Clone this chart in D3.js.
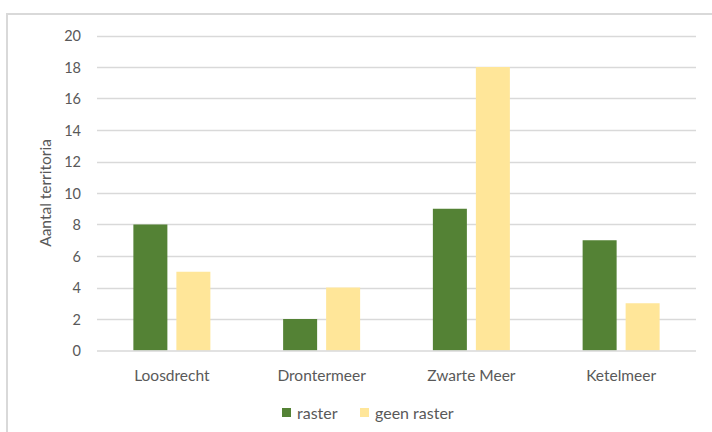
<!DOCTYPE html>
<html>
<head>
<meta charset="utf-8">
<script src="https://cdn.jsdelivr.net/npm/d3@7"></script>
<style>
  body { margin: 0; background: #fff; }
  svg text { font-family: Lato, "Open Sans", sans-serif; fill: #595959; }
</style>
</head>
<body>
<div id="chart"></div>
<script>
const categories = ["Loosdrecht", "Drontermeer", "Zwarte Meer", "Ketelmeer"];
const seriesNames = ["raster", "geen raster"];
const raster = [8, 2, 9, 7];
const geenRaster = [5, 4, 18, 3];
const yTicks = [0, 2, 4, 6, 8, 10, 12, 14, 16, 18, 20];
const colors = { "raster": "#548235", "geen raster": "#FFE699" };

const W = 712, H = 432;
const margin = { top: 35.5, right: 16, bottom: 81.5, left: 97 };

const svg = d3.select("#chart").append("svg")
  .attr("width", W).attr("height", H);

// chart frame
svg.append("rect")
  .attr("x", 7).attr("y", 14)
  .attr("width", W + 10).attr("height", H + 10)
  .attr("fill", "none").attr("stroke", "#d9d9d9").attr("stroke-width", 2);

const x = d3.scaleBand().domain(categories)
  .range([margin.left, W - margin.right]).paddingInner(0).paddingOuter(0);
const y = d3.scaleLinear().domain([0, 20])
  .range([H - margin.bottom, margin.top]);

// gridlines
svg.append("g").selectAll("line")
  .data(yTicks.filter(d => d > 0)).join("line")
  .attr("x1", margin.left).attr("x2", W - margin.right)
  .attr("y1", d => Math.round(y(d)) + 0.5).attr("y2", d => Math.round(y(d)) + 0.5)
  .attr("stroke", "#d9d9d9").attr("stroke-width", 1.3);

// y tick labels
svg.append("g").selectAll("text")
  .data(yTicks).join("text")
  .attr("x", 81).attr("y", d => y(d))
  .attr("text-anchor", "end").attr("dominant-baseline", "central")
  .style("font-size", "14.5px")
  .text(d => d);

// bars
const barW = 34, gap = 9;
const rows = categories.map((c, i) => [
  { cat: c, key: "raster", v: raster[i], off: -gap / 2 - barW },
  { cat: c, key: "geen raster", v: geenRaster[i], off: gap / 2 }
]).flat();

svg.append("g").selectAll("rect")
  .data(rows).join("rect")
  .attr("x", d => x(d.cat) + x.bandwidth() / 2 + d.off)
  .attr("y", d => y(d.v))
  .attr("width", barW)
  .attr("height", d => y(0) - y(d.v))
  .attr("fill", d => colors[d.key]);

// x axis line
svg.append("line")
  .attr("x1", margin.left).attr("x2", W - margin.right)
  .attr("y1", y(0) + 0.5).attr("y2", y(0) + 0.5)
  .attr("stroke", "#d9d9d9").attr("stroke-width", 1.3);

// category labels
svg.append("g").selectAll("text")
  .data(categories).join("text")
  .attr("x", d => x(d) + x.bandwidth() / 2)
  .attr("y", 375)
  .attr("text-anchor", "middle").attr("dominant-baseline", "central")
  .style("font-size", "15.5px")
  .text(d => d);

// y axis title
svg.append("text")
  .attr("transform", `translate(45,${(y(0) + y(20)) / 2}) rotate(-90)`)
  .attr("text-anchor", "middle").attr("dominant-baseline", "central")
  .style("font-size", "15.5px")
  .text("Aantal territoria");

// legend
const legend = svg.append("g");
const legendX = [282, 360];
seriesNames.forEach((s, i) => {
  legend.append("rect")
    .attr("x", legendX[i]).attr("y", 408)
    .attr("width", 9).attr("height", 9)
    .attr("fill", colors[s]);
  legend.append("text")
    .attr("x", legendX[i] + 15).attr("y", 412)
    .attr("dominant-baseline", "central")
    .style("font-size", "16px")
    .text(s);
});
</script>
</body>
</html>
